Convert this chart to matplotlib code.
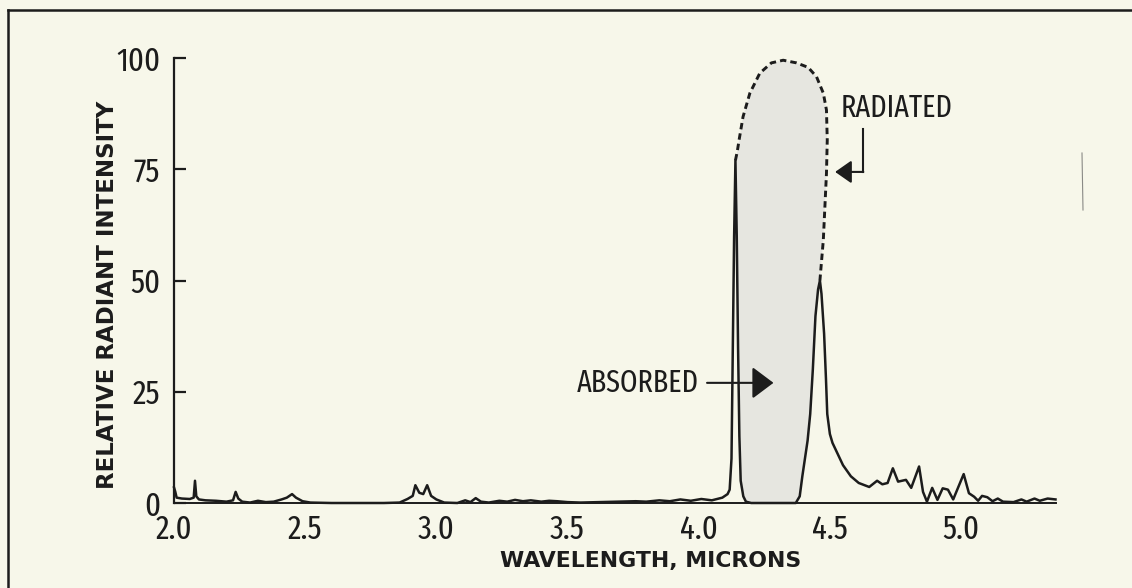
import os

import matplotlib
matplotlib.use("Agg")
import matplotlib.pyplot as plt
import numpy as np
from matplotlib import font_manager
from matplotlib.font_manager import FontProperties
from matplotlib.lines import Line2D

# Emission spectrum (wavelength in microns, relative radiant intensity)
wavelength = [
    2.00, 2.005, 2.01, 2.03, 2.06, 2.075, 2.08, 2.085, 2.095, 2.12, 2.16, 2.20,
    2.225, 2.235, 2.245, 2.26, 2.29, 2.32, 2.35, 2.38, 2.41, 2.43, 2.45, 2.465,
    2.49, 2.52, 2.60, 2.70, 2.80, 2.86, 2.89, 2.91, 2.92, 2.935, 2.95, 2.965,
    2.98, 3.00, 3.03, 3.08, 3.11, 3.13, 3.15, 3.17, 3.20, 3.24, 3.27, 3.30,
    3.33, 3.36, 3.40, 3.43, 3.46, 3.50, 3.55, 3.62, 3.70, 3.76, 3.80, 3.85,
    3.89, 3.93, 3.97, 4.01, 4.05, 4.09, 4.11, 4.118, 4.125, 4.13, 4.135, 4.14,
    4.145, 4.15, 4.155, 4.16, 4.17, 4.18, 4.20, 4.30, 4.37, 4.385, 4.395, 4.405,
    4.415, 4.425, 4.435, 4.445, 4.455, 4.462, 4.468, 4.478, 4.485, 4.49, 4.50,
    4.51, 4.53, 4.55, 4.58, 4.61, 4.65, 4.68, 4.70, 4.72, 4.74, 4.76, 4.79,
    4.81, 4.84, 4.855, 4.87, 4.89, 4.91, 4.93, 4.95, 4.97, 5.01, 5.03, 5.05,
    5.065, 5.08, 5.10, 5.12, 5.14, 5.16, 5.20, 5.23, 5.25, 5.28, 5.30, 5.33,
    5.36,
]
intensity = [
    3.5, 2.5, 1.2, 1.0, 0.9, 1.2, 5.0, 1.5, 0.8, 0.6, 0.5, 0.3,
    0.6, 2.5, 1.0, 0.3, 0.1, 0.5, 0.2, 0.3, 0.8, 1.2, 2.0, 1.2,
    0.4, 0.1, 0.0, 0.0, 0.0, 0.1, 0.9, 1.6, 4.0, 2.3, 2.0, 4.0,
    1.6, 0.8, 0.1, 0.0, 0.6, 0.2, 1.1, 0.3, 0.1, 0.5, 0.3, 0.7,
    0.4, 0.6, 0.3, 0.5, 0.4, 0.2, 0.1, 0.2, 0.3, 0.4, 0.3, 0.6,
    0.4, 0.8, 0.5, 0.9, 0.6, 1.2, 2.0, 3.0, 10.0, 35.0, 60.0, 77.0,
    60.0, 35.0, 15.0, 5.0, 1.5, 0.3, 0.0, 0.0, 0.0, 1.5, 6.0, 10.0,
    14.0, 20.0, 30.0, 42.0, 48.0, 50.0, 47.0, 38.0, 28.0, 20.0, 15.5,
    13.5, 11.0, 8.5, 6.0, 4.5, 3.6, 5.0, 4.2, 4.5, 7.8, 4.8, 5.2,
    3.4, 8.2, 2.5, 0.3, 3.4, 0.7, 3.3, 3.0, 0.8, 6.5, 2.2, 1.4,
    0.5, 1.6, 1.3, 0.4, 1.0, 0.3, 0.2, 0.8, 0.3, 1.0, 0.5, 1.0,
    0.8,
]

# Unabsorbed ("radiated") band outline
radiated_x = [4.140, 4.147, 4.154, 4.169, 4.195, 4.233, 4.277, 4.322, 4.373,
              4.417, 4.449, 4.475, 4.487, 4.490, 4.487, 4.481, 4.475, 4.462]
radiated_y = [77.0, 79.0, 81.6, 86.8, 92.1, 96.6, 98.9, 99.5, 98.9,
              97.9, 95.8, 92.1, 88.3, 81.6, 74.1, 66.6, 59.1, 50.0]

y_ticks = [0, 25, 50, 75, 100]
x_ticks = [2.0, 2.5, 3.0, 3.5, 4.0, 4.5, 5.0]
x_tick_labels = ["2.0", "2.5", "3.0", "3.5", "4.0", "4.5", "5.0"]

PAPER = "#f7f7ea"
INK = "#1c1c1c"


def narrow_font():
    """Return a condensed upright regular sans face if one is installed."""
    skip = ("bold", "italic", "oblique", "light", "thin", "black", "medium",
            "semi", "heavy", "mono", "serif", "display")
    found = {}
    for f in font_manager.fontManager.ttflist:
        base = os.path.basename(f.fname).lower()
        if any(k in base for k in skip):
            continue
        if "extracondensed" in base or "extra-condensed" in base:
            found.setdefault(0, f.fname)
        elif "condensed" in base:
            found.setdefault(1, f.fname)
        elif "narrow" in base:
            found.setdefault(2, f.fname)
    if found:
        return FontProperties(fname=found[min(found)])
    return FontProperties(family="DejaVu Sans", stretch="condensed")


fig = plt.figure(figsize=(11.32, 5.88), dpi=100, facecolor=PAPER)
ax = fig.add_axes([174 / 1132, 85 / 588, 892 / 1132, 445 / 588])
ax.set_facecolor(PAPER)
ax.set_xlim(2.0, 5.4)
ax.set_ylim(0, 100)

w = np.array(wavelength)
v = np.array(intensity)

# shaded absorbed region: spectrum from the 4.14 spike to the 4.46 spike,
# closed by the radiated outline
band = (w >= radiated_x[0]) & (w <= radiated_x[-1])
poly_x = np.concatenate([w[band], radiated_x[::-1]])
poly_y = np.concatenate([v[band], radiated_y[::-1]])
ax.fill(poly_x, poly_y, color="#e6e6e0", lw=0, zorder=1)

ax.plot(w, v, color=INK, lw=1.8, zorder=3, clip_on=False,
        solid_joinstyle="round")
ax.plot(radiated_x, radiated_y, color=INK, lw=2.1, ls=(0, (2.2, 1.4)),
        zorder=3, clip_on=False)

# axes styling
for side in ("top", "right"):
    ax.spines[side].set_visible(False)
ax.spines["left"].set_linewidth(1.6)
ax.spines["left"].set_color(INK)
ax.spines["bottom"].set_linewidth(1.4)
ax.spines["bottom"].set_color(INK)
ax.spines["bottom"].set_bounds(2.0, wavelength[-1])

ax.set_yticks(y_ticks)
ax.set_xticks(x_ticks)
ax.set_xticklabels(x_tick_labels)
ax.tick_params(axis="y", direction="in", length=8.5, width=1.6, pad=10,
               colors=INK)
ax.tick_params(axis="x", length=0, pad=8, colors=INK)

tick_font = narrow_font()
tick_font.set_size(24)
for lab in ax.get_xticklabels() + ax.get_yticklabels():
    lab.set_fontproperties(tick_font)

ax.set_xlabel("WAVELENGTH, MICRONS", fontsize=15.8, fontweight="bold",
              color=INK, va="center")
ax.xaxis.set_label_coords(0.534, -0.130)
ax.set_ylabel("RELATIVE RADIANT INTENSITY", fontsize=16.5, fontweight="bold",
              color=INK, va="center")
ax.yaxis.set_label_coords(-0.074, 0.467)

# annotations
note_font = narrow_font()
note_font.set_size(22)
ax.annotate("ABSORBED", xy=(4.285, 27), xytext=(4.0, 27),
            ha="right", va="center", fontproperties=note_font, color=INK,
            arrowprops=dict(arrowstyle="-|>,head_length=0.6,head_width=0.45",
                            color=INK, lw=1.5, shrinkA=4, shrinkB=0))

ax.text(4.54, 88.8, "RADIATED", ha="left", va="center",
        fontproperties=note_font, color=INK)
ax.plot([4.626, 4.626], [84.0, 74.4], color=INK, lw=1.5)
ax.annotate("", xy=(4.52, 74.4), xytext=(4.6275, 74.4),
            arrowprops=dict(arrowstyle="-|>,head_length=0.5,head_width=0.35",
                            color=INK, lw=1.5, shrinkA=0, shrinkB=0,
                            mutation_scale=20))

# page frame and the faint mark near the right edge of the sheet
fig.add_artist(Line2D([8 / 1132, 1.0], [1 - 10 / 588, 1 - 10 / 588],
                      color=INK, lw=1.8))
fig.add_artist(Line2D([8 / 1132, 8 / 1132], [0.0, 1 - 10 / 588],
                      color=INK, lw=1.8))
fig.add_artist(Line2D([1082 / 1132, 1083 / 1132], [1 - 153 / 588, 1 - 210 / 588],
                      color="#8a8a86", lw=0.8))

fig.savefig("out.png", dpi=100, facecolor=PAPER)
